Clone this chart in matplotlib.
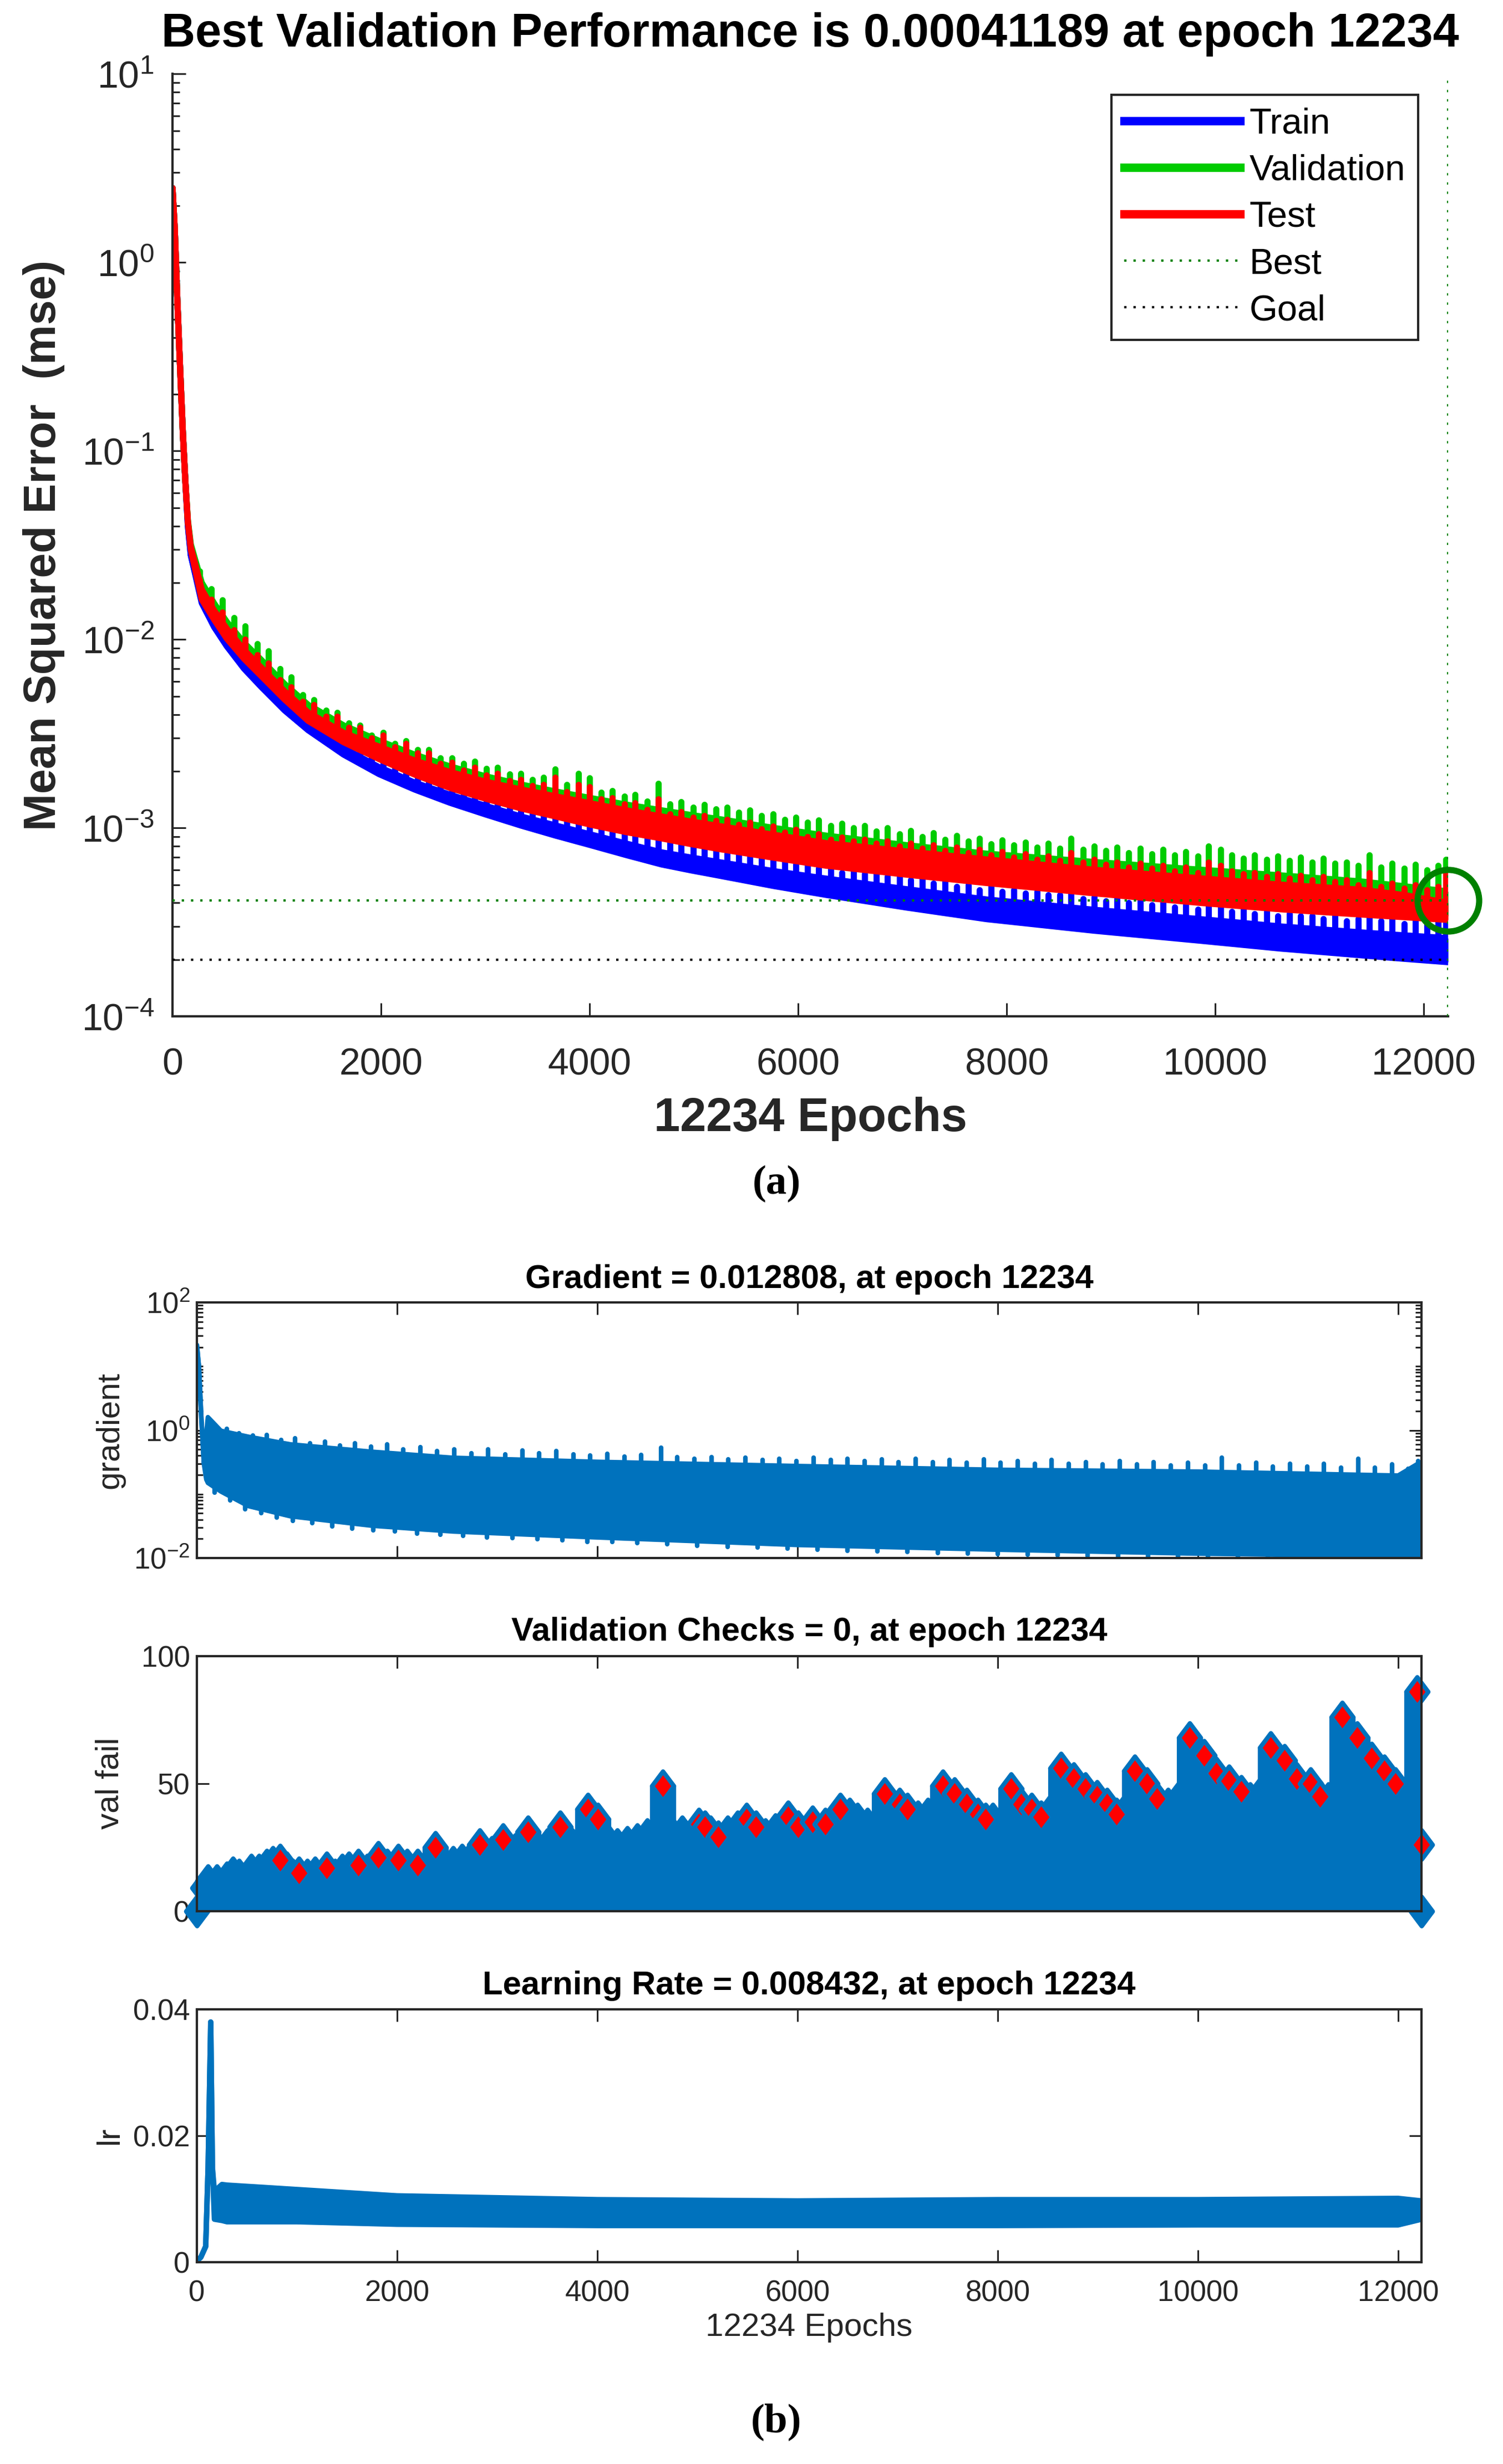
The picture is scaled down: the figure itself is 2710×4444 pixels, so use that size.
import numpy as np
import matplotlib
matplotlib.use('Agg')
import matplotlib.pyplot as plt
from matplotlib.lines import Line2D
from matplotlib.path import Path
from matplotlib.ticker import LogLocator, NullFormatter

plt.rcParams['font.family'] = ['Liberation Sans', 'DejaVu Sans']
plt.rcParams['mathtext.fontset'] = 'custom'
plt.rcParams['mathtext.rm'] = 'Liberation Sans'

# ---------------- (a) performance data ----------------
best_epoch = 12234
best_perf = 0.00041189
goal_perf = 2.0e-4

mse_epochs = [0, 21, 45, 72, 100, 123, 147, 175, 280, 400, 520, 685, 850, 1075, 1300, 1640,
              1980, 2320, 2660, 3000, 3340, 3675, 4010, 4350, 4690, 4975, 5260, 5765, 6270,
              7040, 7810, 8835, 9860, 10630, 11400, 11817, 12234]
train_low = [2.48, 1.51, 0.65, 0.28, 0.121, 0.069, 0.040, 0.028, 0.0156, 0.0116, 0.0092, 0.0070,
             0.0056, 0.0042, 0.0033, 0.00245, 0.00193, 0.00160, 0.00136, 0.00118, 0.00103,
             0.00091, 0.00081, 0.000718, 0.00064, 0.000595, 0.000556, 0.000492, 0.000441,
             0.000378, 0.000328, 0.000285, 0.000252, 0.000229, 0.000211, 0.000202, 0.000194]
train_high = [2.48, 1.51, 0.65, 0.28, 0.121, 0.069, 0.040, 0.028, 0.0163, 0.0122, 0.0097, 0.0074,
              0.0060, 0.0045, 0.00353, 0.00265, 0.0021, 0.00174, 0.0015, 0.00131, 0.00115,
              0.00103, 0.000923, 0.000826, 0.000742, 0.000696, 0.000656, 0.00059, 0.000538,
              0.000473, 0.000417, 0.000368, 0.000328, 0.0003, 0.000279, 0.000269, 0.00026]
val_low = [2.48, 1.51, 0.65, 0.28, 0.121, 0.069, 0.042, 0.031, 0.0172, 0.0134, 0.0106, 0.0083,
           0.0067, 0.0051, 0.0039, 0.0030, 0.00244, 0.00202, 0.00171, 0.0015, 0.00133, 0.00121,
           0.00109, 0.0010, 0.00092, 0.00086, 0.00081, 0.00073, 0.00066, 0.00059, 0.00054,
           0.00047, 0.00042, 0.00039, 0.000365, 0.000353, 0.000341]
val_high = [2.48, 1.51, 0.65, 0.28, 0.121, 0.069, 0.043, 0.032, 0.0200, 0.0155, 0.0124, 0.0096,
            0.0078, 0.0058, 0.0045, 0.0035, 0.0029, 0.00245, 0.00212, 0.00188, 0.0017, 0.00156,
            0.00144, 0.00133, 0.00124, 0.00117, 0.00111, 0.0010, 0.00091, 0.00081, 0.00073,
            0.00066, 0.00060, 0.00056, 0.00052, 0.00049, 0.00046]
test_low = [2.48, 1.51, 0.65, 0.28, 0.121, 0.069, 0.042, 0.030, 0.0163, 0.0127, 0.0101, 0.0079,
            0.0064, 0.0048, 0.0037, 0.00285, 0.00232, 0.00192, 0.00163, 0.00143, 0.00127,
            0.00115, 0.00104, 0.00095, 0.00088, 0.00082, 0.00077, 0.000695, 0.00063, 0.000565,
            0.00051, 0.00045, 0.0004, 0.00037, 0.000347, 0.000336, 0.000325]
test_high = [2.48, 1.51, 0.65, 0.28, 0.121, 0.069, 0.042, 0.031, 0.0184, 0.0142, 0.0114, 0.0088,
             0.0071, 0.0053, 0.0041, 0.0032, 0.0027, 0.00228, 0.00198, 0.00176, 0.0016, 0.00147,
             0.00135, 0.00124, 0.00115, 0.00108, 0.00102, 0.00092, 0.00083, 0.00075, 0.00068,
             0.0006, 0.00054, 0.0005, 0.00047, 0.00044, 0.0004]

spike_epochs = [
    260, 372, 478, 591, 698, 812, 918, 1031, 1139, 1252,
    1358, 1471, 1579, 1692, 1798, 1911, 2019, 2132, 2238, 2351,
    2458, 2571, 2679, 2792, 2898, 3011, 3119, 3232, 3338, 3451,
    3558, 3671, 3779, 3892, 3998, 4111, 4219, 4332, 4438, 4551,
    4658, 4771, 4879, 4992, 5098, 5211, 5319, 5432, 5538, 5651,
    5758, 5871, 5979, 6092, 6198, 6311, 6419, 6532, 6638, 6751,
    6858, 6971, 7079, 7192, 7298, 7411, 7519, 7632, 7738, 7851,
    7958, 8071, 8179, 8292, 8398, 8511, 8619, 8732, 8838, 8951,
    9058, 9171, 9279, 9392, 9498, 9611, 9719, 9832, 9938, 10051,
    10158, 10271, 10379, 10492, 10598, 10711, 10819, 10932, 11038, 11151,
    11258, 11371, 11479, 11592, 11698, 11811, 11919, 12032, 12138, 12212]
train_spikes = [
    0.0170, 0.0132, 0.0113, 0.0090, 0.0081, 0.0066, 0.0060, 0.0050, 0.0046, 0.0038,
    0.0036, 0.0031, 0.0030, 0.0028, 0.0025, 0.0024, 0.0023, 0.0021, 0.0020, 0.0019,
    0.00185, 0.00172, 0.00165, 0.00155, 0.00152, 0.00142, 0.00140, 0.00133, 0.00131, 0.00124,
    0.00121, 0.00130, 0.00112, 0.00118, 0.00110, 0.00099, 0.00096, 0.00094, 0.00091, 0.00089,
    0.00104, 0.00085, 0.00083, 0.00082, 0.00078, 0.00077, 0.00073, 0.00073, 0.00070, 0.00070,
    0.00067, 0.00068, 0.00064, 0.00063, 0.00061, 0.00062, 0.00058, 0.00059, 0.00057, 0.00058,
    0.00055, 0.00055, 0.00053, 0.00054, 0.00051, 0.00052, 0.00049, 0.00050, 0.00047, 0.00049,
    0.00046, 0.00047, 0.00045, 0.00046, 0.00044, 0.00044, 0.00047, 0.00042, 0.00043, 0.00041,
    0.00042, 0.00040, 0.00041, 0.00039, 0.00040, 0.00038, 0.00039, 0.00037, 0.00041, 0.00039,
    0.00036, 0.00037, 0.00035, 0.00036, 0.00034, 0.00035, 0.00034, 0.00034, 0.00033, 0.00034,
    0.00032, 0.00033, 0.00035, 0.00032, 0.00033, 0.00031, 0.00033, 0.00031, 0.00032, 0.00033]
val_spikes = [
    0.0230, 0.0185, 0.0162, 0.0130, 0.0118, 0.0095, 0.0087, 0.0070, 0.0063, 0.0051,
    0.0048, 0.0042, 0.0041, 0.0036, 0.0035, 0.0031, 0.0032, 0.0028, 0.0029, 0.0026,
    0.0026, 0.00235, 0.00235, 0.0022, 0.00225, 0.00206, 0.0021, 0.00193, 0.00195, 0.00181,
    0.00185, 0.00205, 0.00170, 0.00195, 0.00184, 0.00154, 0.00158, 0.00147, 0.0015, 0.00139,
    0.00172, 0.00134, 0.00138, 0.00129, 0.00133, 0.00126, 0.00129, 0.00121, 0.00124, 0.00116,
    0.00119, 0.00111, 0.00114, 0.00107, 0.00110, 0.00103, 0.00106, 0.00100, 0.00103, 0.00096,
    0.00100, 0.00093, 0.00097, 0.00090, 0.00094, 0.00087, 0.00091, 0.00085, 0.00088, 0.00082,
    0.00086, 0.00081, 0.00084, 0.00079, 0.00083, 0.00078, 0.00088, 0.00077, 0.00080, 0.00076,
    0.00079, 0.00074, 0.00078, 0.00073, 0.00077, 0.00072, 0.00075, 0.00071, 0.00080, 0.00077,
    0.00072, 0.00069, 0.00072, 0.00068, 0.00071, 0.00067, 0.00070, 0.00066, 0.00069, 0.00065,
    0.00066, 0.00063, 0.00072, 0.00062, 0.00065, 0.00061, 0.00064, 0.00060, 0.00063, 0.00068]
test_spikes = [
    0.0205, 0.0163, 0.0140, 0.0112, 0.0100, 0.0083, 0.0075, 0.0061, 0.0056, 0.0047,
    0.0045, 0.0039, 0.0039, 0.0034, 0.0034, 0.0030, 0.0031, 0.0027, 0.0028, 0.0025,
    0.0025, 0.0022, 0.00222, 0.00203, 0.0021, 0.0019, 0.00195, 0.00178, 0.00180, 0.00167,
    0.00170, 0.00185, 0.00155, 0.00170, 0.00165, 0.00142, 0.00144, 0.00134, 0.00136, 0.00125,
    0.00142, 0.00119, 0.00122, 0.00114, 0.00116, 0.00109, 0.00111, 0.00104, 0.00107, 0.00099,
    0.00102, 0.00095, 0.00098, 0.00090, 0.00093, 0.00087, 0.00089, 0.00085, 0.00087, 0.00083,
    0.00085, 0.00080, 0.00083, 0.00078, 0.00081, 0.00076, 0.00079, 0.00074, 0.00077, 0.00072,
    0.00075, 0.00070, 0.00073, 0.00068, 0.00071, 0.00067, 0.00074, 0.00066, 0.00068, 0.00064,
    0.00066, 0.00062, 0.00065, 0.00061, 0.00063, 0.00059, 0.00062, 0.00058, 0.00066, 0.00063,
    0.00059, 0.00057, 0.00058, 0.00055, 0.00057, 0.00054, 0.00056, 0.00053, 0.00055, 0.00052,
    0.00053, 0.00050, 0.00058, 0.00049, 0.00051, 0.00048, 0.00050, 0.00047, 0.00049, 0.00058]

# ---------------- (b) training state data ----------------
grad_epochs = [0, 20, 45, 70, 94, 110, 240, 515, 935, 1750, 2560, 4000, 6000, 8000, 10000, 12000, 12200, 12234]
grad_low = [21.5, 10.0, 1.5, 0.3, 0.17, 0.15, 0.11, 0.065, 0.045, 0.032, 0.026, 0.021, 0.016,
            0.0135, 0.0117, 0.0107, 0.0105, 0.0128]
grad_high = [21.5, 10.0, 1.5, 0.3, 0.9, 1.6, 0.98, 0.79, 0.60, 0.46, 0.37, 0.32, 0.275,
             0.24, 0.225, 0.195, 0.30, 0.30]
grad_spike_epochs = [
    300, 420, 560, 700, 840, 980, 1130, 1280, 1430, 1580,
    1740, 1900, 2060, 2230, 2400, 2570, 2740, 2910, 3080, 3250,
    3420, 3590, 3760, 3930, 4100, 4270, 4440, 4640, 4800, 4970,
    5140, 5310, 5480, 5650, 5820, 5990, 6160, 6330, 6500, 6670,
    6840, 7010, 7180, 7350, 7520, 7690, 7860, 8030, 8200, 8370,
    8540, 8710, 8880, 9050, 9220, 9390, 9560, 9730, 9900, 10070,
    10240, 10410, 10580, 10750, 10920, 11090, 11260, 11430, 11600, 11770,
    11940, 12100, 12200]
grad_spike_top = [
    1.05, 0.90, 0.82, 0.85, 0.70, 0.75, 0.62, 0.66, 0.58, 0.62,
    0.55, 0.60, 0.50, 0.54, 0.47, 0.50, 0.44, 0.50, 0.42, 0.48,
    0.44, 0.47, 0.42, 0.40, 0.43, 0.39, 0.41, 0.53, 0.38, 0.36,
    0.38, 0.35, 0.37, 0.34, 0.36, 0.33, 0.37, 0.34, 0.36, 0.33,
    0.35, 0.32, 0.36, 0.32, 0.34, 0.31, 0.35, 0.31, 0.33, 0.30,
    0.34, 0.30, 0.32, 0.29, 0.33, 0.29, 0.32, 0.28, 0.31, 0.28,
    0.37, 0.28, 0.31, 0.27, 0.30, 0.27, 0.30, 0.26, 0.36, 0.26,
    0.29, 0.25, 0.33]
grad_dip_epochs = [
    180, 330, 480, 640, 800, 960, 1150, 1350, 1550, 1760,
    1980, 2200, 2430, 2660, 2900, 3150, 3400, 3650, 3900, 4150,
    4400, 4700, 5000, 5300, 5600, 5900, 6200, 6500, 6800, 7100,
    7400, 7700, 8000, 8300, 8600, 8900, 9200, 9500, 9800, 10100,
    10400, 10700, 11000, 11300, 11600, 11900, 12150]
grad_dip_bottom = [
    0.105, 0.080, 0.058, 0.050, 0.043, 0.038, 0.035, 0.031, 0.029, 0.027,
    0.026, 0.024, 0.023, 0.022, 0.021, 0.0205, 0.0198, 0.019, 0.018, 0.0178,
    0.017, 0.0165, 0.0155, 0.015, 0.0145, 0.014, 0.0134, 0.013, 0.0128, 0.0124,
    0.012, 0.0118, 0.0115, 0.0113, 0.011, 0.0108, 0.0105, 0.0103, 0.0101, 0.0100,
    0.0100, 0.0100, 0.0100, 0.0100, 0.0100, 0.0100, 0.0100]

vf_base_epochs = [0, 30, 80, 150, 500, 1000, 1500, 2000, 2600, 3500, 4500, 5000, 6000,
                  7000, 8000, 8500, 9200, 9700, 10500, 11200, 12000, 12234]
vf_base = [0, 5, 9, 11, 12, 13, 14, 15, 17, 20, 23, 25, 29, 32, 33, 36, 37, 40, 42, 43, 40, 36]
vf_tooth_epochs = [0, 60, 110, 200, 300, 360, 420, 543, 620, 700, 760, 900, 960, 1100, 1180, 1380,
                   1450, 1520, 1700, 1900, 2100, 2300, 2480, 2560, 2650, 2740, 2950, 3180, 3420,
                   3500, 3750, 4100, 4200, 4300, 4400, 4500, 4560, 4760, 4850, 5130, 5300, 5400,
                   5680, 5780, 6080, 6520, 6600, 6700, 7200, 7300, 7950, 8520, 9280, 9700, 9800,
                   10520, 10620, 11300, 12080, 12234]
vf_tooth_values = [0, 9, 12, 12, 13, 15, 14, 16, 16, 18, 19, 17, 14, 14, 15, 14,
                   16, 17, 16, 18, 18, 17, 18, 19, 20, 21, 23, 24, 24,
                   26, 26, 28, 26, 27, 28, 30, 28, 30, 31, 31, 31, 33,
                   30, 32, 30, 38, 36, 34, 37, 38, 36, 39, 40, 42, 44,
                   44, 46, 44, 44, 0]
vf_peak_epochs = [831, 1019, 1296, 1612, 1811, 2011, 2205, 2382, 2825, 3058,
                  3307, 3629, 3906, 4006, 4654, 5014, 5075, 5208, 5490, 5584,
                  5906, 6006, 6150, 6280, 6427, 6870, 7019, 7097, 7452, 7568,
                  7690, 7801, 7879, 8134, 8233, 8338, 8432, 8632, 8759, 8876,
                  8991, 9091, 9186, 9368, 9490, 9590, 9917, 10061, 10183, 10310,
                  10432, 10726, 10864, 10986, 11125, 11219, 11440, 11590, 11734, 11861,
                  11972, 12188, 12232]
vf_peak_values = [20, 15, 17, 18, 21, 20, 18, 25, 26, 28,
                  31, 33, 40, 36, 49, 34, 33, 29, 36, 33,
                  37, 33, 35, 34, 40, 46, 42, 40, 49, 46,
                  42, 38, 36, 48, 42, 40, 37, 56, 52, 48,
                  45, 42, 38, 55, 50, 44, 68, 61, 54, 51,
                  47, 64, 59, 52, 50, 45, 76, 68, 60, 55,
                  50, 86, 26]

lr_epochs = [0, 40, 88, 112, 138, 155, 175, 250, 300, 1000, 2000, 4000, 6000, 8000, 10000, 12000, 12234]
lr_low = [0.0002, 0.0008, 0.0025, 0.015, 0.038, 0.015, 0.0068, 0.0066, 0.0064, 0.0064, 0.0060,
          0.0058, 0.0058, 0.0058, 0.0059, 0.0059, 0.0068]
lr_high = [0.0002, 0.0008, 0.0025, 0.015, 0.038, 0.015, 0.0112, 0.0123, 0.0122, 0.0115, 0.0105,
           0.0099, 0.0097, 0.0099, 0.0099, 0.0101, 0.0097]

epoch_ticks = [0, 2000, 4000, 6000, 8000, 10000, 12000]

C_TRAIN, C_VAL, C_TEST = (0, 0, 1), (0, 0.8, 0), (1, 0, 0)
C_BEST = (0, 0.5, 0)
C_ML = (0, 0.447, 0.741)
AXC = '#262626'
DOT = (0, (1, 3))


def band(ax, x, low, high, color, lw, z):
    ax.fill_between(x, low, high, color=color, lw=0, zorder=z)
    for y in (low, high):
        ax.plot(x, y, color=color, lw=lw, solid_joinstyle='round',
                solid_capstyle='round', zorder=z)


def spikes(ax, x, edge, sx, s_from, s_to, ceil, color, lw, z):
    # spikes are clipped to the side of the band edge they grow from
    verts = list(zip(x, edge)) + [(x[-1], ceil), (x[0], ceil)]
    verts.append(verts[0])
    clip = Path(verts, closed=True)
    sp = ax.vlines(sx, s_from, s_to, colors=[color], lw=lw, zorder=z)
    sp.set_capstyle('round')
    sp.set_clip_path(clip, ax.transData)


def style_box(ax, fs):
    for s in ax.spines.values():
        s.set_linewidth(3)
        s.set_color(AXC)
    ax.tick_params(which='both', direction='in', top=True, right=True,
                   color=AXC, labelcolor=AXC, labelsize=fs, width=2.2)
    ax.tick_params(which='major', length=16)
    ax.tick_params(which='minor', length=8)


fig = plt.figure(figsize=(27.1, 44.44), dpi=100)

# ======================= (a) =======================
ax = fig.add_axes([0.1148, 0.5875, 0.8487, 0.3825])
ax.set_yscale('log')
series = [(train_low, train_high, train_spikes, C_TRAIN, 2.0),
          (val_low, val_high, val_spikes, C_VAL, 2.1),
          (test_low, test_high, test_spikes, C_TEST, 2.2)]
for low, high, sp, col, z in series:
    spikes(ax, mse_epochs, low, spike_epochs, 1e-4, sp, 20, col, 8, z)
    band(ax, mse_epochs, low, high, col, 8, z)

ax.plot([0, best_epoch], [best_perf, best_perf], color=C_BEST, lw=3, ls=DOT, zorder=3)
ax.plot([best_epoch, best_epoch], [1e-4, 10], color=C_BEST, lw=3, ls=DOT, zorder=3)
ax.plot([0, best_epoch], [goal_perf, goal_perf], color='k', lw=3, ls=DOT, zorder=3)
ax.plot([best_epoch], [best_perf], 'o', ms=80, mfc='none', mec=C_BEST, mew=8,
        clip_on=False, zorder=4)

ax.set_xlim(0, 12234)
ax.set_ylim(1e-4, 10)
ax.set_xticks(epoch_ticks)
ax.yaxis.set_major_locator(LogLocator(base=10, numticks=10))
ax.yaxis.set_minor_locator(LogLocator(base=10, subs=np.arange(2, 10), numticks=20))
ax.yaxis.set_minor_formatter(NullFormatter())
ax.spines['top'].set_visible(False)
ax.spines['right'].set_visible(False)
for s in ('left', 'bottom'):
    ax.spines[s].set_linewidth(3)
    ax.spines[s].set_color(AXC)
ax.tick_params(which='both', direction='in', top=False, right=False, color=AXC,
               labelcolor=AXC, labelsize=49, width=2.2)
ax.tick_params(which='major', length=17)
ax.tick_params(which='minor', length=9)
ax.tick_params(axis='x', pad=40)
ax.tick_params(axis='y', pad=24)

ax.set_title('Best Validation Performance is 0.00041189 at epoch 12234', fontsize=61,
             fontweight='bold', y=1.0418, va='center', pad=0)
ax.set_xlabel('12234 Epochs', fontsize=61, fontweight='bold', color=AXC, va='center')
ax.xaxis.set_label_coords(0.5, -0.1088)
ax.set_ylabel('Mean Squared Error  (mse)', fontsize=58, fontweight='bold', color=AXC, va='center')
ax.yaxis.set_label_coords(-0.1009, 0.5)

handles = [Line2D([], [], color=C_TRAIN, lw=11),
           Line2D([], [], color=C_VAL, lw=11),
           Line2D([], [], color=C_TEST, lw=11),
           Line2D([], [], color=C_BEST, lw=3, ls=DOT),
           Line2D([], [], color='k', lw=3, ls=DOT)]
leg = ax.legend(handles, ['Train', 'Validation', 'Test', 'Best', 'Goal'],
                loc='upper right', bbox_to_anchor=(0.9765, 0.978), fontsize=47,
                frameon=True, fancybox=False, framealpha=1, edgecolor=AXC,
                handlelength=3.2, handletextpad=0.26, borderpad=0.35,
                labelspacing=0.37, borderaxespad=0)
leg.get_frame().set_linewidth(3)

fig.text(0.5166, 1 - 2135 / 4444, '(a)', family=['Liberation Serif', 'DejaVu Serif'],
         fontsize=54, fontweight='bold', ha='center', va='center')

# ======================= (b) gradient =======================
axg = fig.add_axes([0.1310, 0.3677, 0.8148, 0.1037])
axg.set_yscale('log')
spikes(axg, grad_epochs, grad_low, grad_spike_epochs, 1e-2, grad_spike_top, 100, C_ML, 6, 2)
spikes(axg, grad_epochs, grad_high, grad_dip_epochs, grad_dip_bottom, 100, 1e-3, C_ML, 6, 2)
band(axg, grad_epochs, grad_low, grad_high, C_ML, 6, 2)
axg.set_xlim(0, 12234)
axg.set_ylim(1e-2, 1e2)
axg.set_xticks(epoch_ticks)
axg.set_xticklabels([])
axg.set_yticks([1e-2, 1, 1e2])
axg.yaxis.set_minor_locator(LogLocator(base=10, subs=np.arange(1, 10), numticks=20))
axg.yaxis.set_minor_formatter(NullFormatter())
style_box(axg, 38)
axg.tick_params(axis='y', pad=9)
axg.set_title('Gradient = 0.012808, at epoch 12234', fontsize=43, fontweight='bold',
              y=1.091, va='center', pad=0)
axg.set_ylabel('gradient', fontsize=42, color=AXC, va='center')
axg.yaxis.set_label_coords(-0.071, 0.5)

# ======================= (b) validation checks =======================
axv = fig.add_axes([0.1310, 0.2244, 0.8148, 0.1035])
diamond = Path([(0, 1), (0.75, 0), (0, -1), (-0.75, 0), (0, 1)], closed=True)
axv.fill_between(vf_base_epochs, 0, vf_base, color=C_ML, lw=0, zorder=2)
axv.plot(vf_base_epochs, vf_base, color=C_ML, lw=6, solid_joinstyle='round', zorder=2)
axv.vlines(vf_tooth_epochs, 0, vf_tooth_values, colors=[C_ML], lw=34, zorder=2)
axv.vlines(vf_peak_epochs, 0, vf_peak_values, colors=[C_ML], lw=34, zorder=2)
axv.plot(vf_tooth_epochs, vf_tooth_values, ls='none', marker=diamond, ms=38, mfc=C_ML,
         mec=C_ML, mew=5.8, zorder=2.1, clip_on=False)
axv.plot(vf_peak_epochs, vf_peak_values, ls='none', marker=diamond, ms=38, mfc='red',
         mec=C_ML, mew=5.8, zorder=2.2, clip_on=False)
axv.set_xlim(0, 12234)
axv.set_ylim(0, 100)
axv.set_xticks(epoch_ticks)
axv.set_xticklabels([])
axv.set_yticks([0, 50, 100])
style_box(axv, 38)
axv.tick_params(axis='y', pad=9)
axv.set_title('Validation Checks = 0, at epoch 12234', fontsize=43, fontweight='bold',
              y=1.0935, va='center', pad=0)
axv.set_ylabel('val fail', fontsize=42, color=AXC, va='center')
axv.yaxis.set_label_coords(-0.071, 0.5)

# ======================= (b) learning rate =======================
axl = fig.add_axes([0.1310, 0.0819, 0.8148, 0.1026])
band(axl, lr_epochs, lr_low, lr_high, C_ML, 7, 2)
axl.set_xlim(0, 12234)
axl.set_ylim(0, 0.04)
axl.set_xticks(epoch_ticks)
axl.set_yticks([0, 0.02, 0.04])
axl.set_yticklabels(['0', '0.02', '0.04'])
style_box(axl, 38)
axl.tick_params(axis='y', pad=9)
axl.tick_params(axis='x', pad=23)
axl.set_title('Learning Rate = 0.008432, at epoch 12234', fontsize=43, fontweight='bold',
              y=1.094, va='center', pad=0)
axl.set_ylabel('lr', fontsize=42, color=AXC, va='center')
axl.yaxis.set_label_coords(-0.071, 0.5)
axl.set_xlabel('12234 Epochs', fontsize=42, color=AXC, va='center')
axl.xaxis.set_label_coords(0.5, -0.259)

fig.text(0.5166, 1 - 4368 / 4444, '(b)', family=['Liberation Serif', 'DejaVu Serif'],
         fontsize=54, fontweight='bold', ha='center', va='center')

fig.savefig('out.png', dpi=100, facecolor='white')
